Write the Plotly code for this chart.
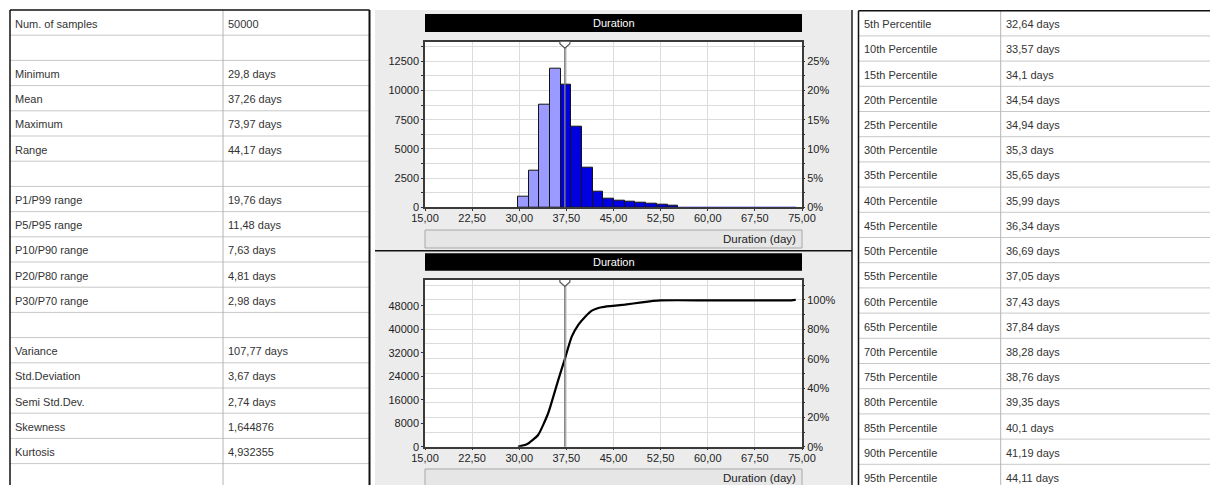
import plotly.graph_objects as go

# ---------------- data ----------------
stat_labels = ["Num. of samples", "", "Minimum", "Mean", "Maximum", "Range", "",
               "P1/P99 range", "P5/P95 range", "P10/P90 range", "P20/P80 range", "P30/P70 range", "",
               "Variance", "Std.Deviation", "Semi Std.Dev.", "Skewness", "Kurtosis", ""]
stat_values = ["50000", "", "29,8 days", "37,26 days", "73,97 days", "44,17 days", "",
               "19,76 days", "11,48 days", "7,63 days", "4,81 days", "2,98 days", "",
               "107,77 days", "3,67 days", "2,74 days", "1,644876", "4,932355", ""]

pct_labels = ["5th Percentile", "10th Percentile", "15th Percentile", "20th Percentile",
              "25th Percentile", "30th Percentile", "35th Percentile", "40th Percentile",
              "45th Percentile", "50th Percentile", "55th Percentile", "60th Percentile",
              "65th Percentile", "70th Percentile", "75th Percentile", "80th Percentile",
              "85th Percentile", "90th Percentile", "95th Percentile"]
pct_values = ["32,64 days", "33,57 days", "34,1 days", "34,54 days", "34,94 days", "35,3 days",
              "35,65 days", "35,99 days", "36,34 days", "36,69 days", "37,05 days", "37,43 days",
              "37,84 days", "38,28 days", "38,76 days", "39,35 days", "40,1 days", "41,19 days",
              "44,11 days"]

n_samples = 50000
mean_val = 37.26

bin_edges = [29.8, 31.5, 33.2, 34.9, 36.6, 38.3, 40.0, 41.7, 43.4, 45.1, 46.8, 48.5, 50.2,
             51.9, 53.6, 55.3, 57.0, 58.7, 60.4, 62.1, 63.8, 65.5, 67.2, 68.9, 70.6, 72.3, 73.97]
bin_counts = [880, 3130, 8750, 11900, 10450, 6900, 3420, 1350, 740, 560, 480, 390, 300,
              220, 140, 12, 10, 9, 8, 7, 6, 5, 5, 4, 4, 6]

cdf_x = [29.8, 31.2, 33.0, 34.6, 36.2, 37.2, 38.35, 39.4, 40.5, 41.5, 43.1, 44.5, 46.8,
         49.5, 52.5, 60.0, 67.5, 73.3, 74.0]
cdf_y = [0, 800, 4000, 11400, 22700, 29500, 37500, 41500, 44300, 46300, 47500, 47900, 48400,
         49200, 49850, 49870, 49880, 49890, 50000]

x_ticks = [15, 22.5, 30, 37.5, 45, 52.5, 60, 67.5, 75]
x_ticktext = ["15,00", "22,50", "30,00", "37,50", "45,00", "52,50", "60,00", "67,50", "75,00"]
hist_count_ticks = [0, 1250, 2500, 3750, 5000, 6250, 7500, 8750, 10000, 11250, 12500, 13750]
hist_count_text = ["0", "", "2500", "", "5000", "", "7500", "", "10000", "", "12500", ""]
hist_pct_ticks = [0, 2.5, 5, 7.5, 10, 12.5, 15, 17.5, 20, 22.5, 25, 27.5]
hist_pct_text = ["0%", "", "5%", "", "10%", "", "15%", "", "20%", "", "25%", ""]
cdf_count_ticks = [0, 8000, 16000, 24000, 32000, 40000, 48000]
cdf_count_text = ["0", "8000", "16000", "24000", "32000", "40000", "48000"]
cdf_pct_ticks = [0, 10, 20, 30, 40, 50, 60, 70, 80, 90, 100, 110]
cdf_pct_text = ["0%", "", "20%", "", "40%", "", "60%", "", "80%", "", "100%", ""]

chart_title = "Duration"
axis_title = "Duration (day)"

# ---------------- geometry helpers ----------------
W, H = 1210, 485
FONT = "Liberation Sans, Arial, sans-serif"


def X(p):
    return p / W


def Y(p):
    return 1 - p / H


fig = go.Figure()

# histogram bars
centers = [(bin_edges[i] + bin_edges[i + 1]) / 2 for i in range(len(bin_counts))]
widths = [bin_edges[i + 1] - bin_edges[i] for i in range(len(bin_counts))]
colors = ["#9a9aff" if c < mean_val else "#0000e0" for c in centers]
outline_w = [1 if c >= 100 else 0 for c in bin_counts]
fig.add_trace(go.Bar(x=centers, y=bin_counts, width=widths,
                     marker=dict(color=colors, line=dict(color="#141414", width=outline_w)),
                     xaxis="x", yaxis="y", showlegend=False, hoverinfo="skip"))

# cumulative line
fig.add_trace(go.Scatter(x=cdf_x, y=cdf_y, mode="lines",
                         line=dict(color="black", width=2.2, shape="spline", smoothing=0.5),
                         xaxis="x2", yaxis="y3", showlegend=False, hoverinfo="skip"))

hist_ymax = 14170
cdf_ymax = 56800

# percentage views of the same data on the right axes (invisible, keep the axes alive)
fig.add_trace(go.Scatter(x=centers, y=[c / n_samples * 100 for c in bin_counts], mode="markers",
                         marker=dict(opacity=0), xaxis="x", yaxis="y2", showlegend=False, hoverinfo="skip"))
fig.add_trace(go.Scatter(x=cdf_x, y=[c / n_samples * 100 for c in cdf_y], mode="markers",
                         marker=dict(opacity=0), xaxis="x2", yaxis="y4", showlegend=False, hoverinfo="skip"))

hist_dom_x = [X(425), X(802)]
hist_dom_y = [Y(207.3), Y(41.7)]
cdf_dom_y = [Y(446.7), Y(280)]

tickfont = dict(family=FONT, size=11, color="#222")
grid_c = "#dcdcdc"
line_c = "#3a3a3a"

xcommon = dict(range=[15, 75], tickvals=x_ticks, ticktext=x_ticktext, showgrid=True, gridcolor=grid_c,
               gridwidth=1, zeroline=False, showline=True, mirror=True, linecolor=line_c, linewidth=1.5,
               ticks="outside", ticklen=2, tickcolor="#333", tickfont=tickfont, fixedrange=True,
               ticklabelstandoff=-2)
ycommon = dict(zeroline=False, ticks="outside", ticklen=2, tickcolor="#333", tickfont=tickfont)

fig.update_layout(
    width=W, height=H, margin=dict(l=0, r=0, t=0, b=0, autoexpand=False),
    paper_bgcolor="white", plot_bgcolor="white",
    showlegend=False, bargap=0,
    xaxis=dict(domain=hist_dom_x, anchor="y", **xcommon),
    yaxis=dict(domain=hist_dom_y, anchor="x", range=[0, hist_ymax], tickvals=hist_count_ticks,
               ticktext=hist_count_text, showgrid=True, gridcolor=grid_c, gridwidth=1,
               showline=True, mirror=True, linecolor=line_c, linewidth=1.5, **ycommon),
    yaxis2=dict(overlaying="y", side="right", anchor="x", range=[0, hist_ymax / n_samples * 100],
                tickvals=hist_pct_ticks, ticktext=hist_pct_text, showgrid=False, showline=False, **ycommon),
    xaxis2=dict(domain=hist_dom_x, anchor="y3", **xcommon),
    yaxis3=dict(domain=cdf_dom_y, anchor="x2", range=[0, cdf_ymax], tickvals=cdf_count_ticks,
                ticktext=cdf_count_text, showgrid=False,
                showline=True, mirror=True, linecolor=line_c, linewidth=1.5, **ycommon),
    yaxis4=dict(overlaying="y3", side="right", anchor="x2", range=[0, cdf_ymax / n_samples * 100],
                tickvals=cdf_pct_ticks, ticktext=cdf_pct_text, showgrid=True, gridcolor=grid_c, gridwidth=1,
                showline=False, **ycommon),
)

shapes = []
annots = []

# middle panel background
shapes.append(dict(type="rect", xref="paper", yref="paper", x0=X(375), x1=X(852), y0=Y(485), y1=Y(10),
                   fillcolor="#ececec", line=dict(width=0), layer="below"))
# white plot areas
for xr, yr in (("x domain", "y domain"), ("x2 domain", "y3 domain")):
    shapes.append(dict(type="rect", xref=xr, yref=yr, x0=0, x1=1, y0=0, y1=1, fillcolor="white",
                       line=dict(width=0), layer="below"))
# panel borders
shapes.append(dict(type="line", xref="paper", yref="paper", x0=X(852), x1=X(852), y0=Y(485), y1=Y(10),
                   line=dict(color="#222", width=1.5)))
shapes.append(dict(type="line", xref="paper", yref="paper", x0=X(375), x1=X(852), y0=Y(250.7), y1=Y(250.7),
                   line=dict(color="#111", width=1.5)))

# title bars and axis-title boxes
for top, bottom, box_top, box_bottom in ((14, 32, 230, 248), (253.3, 270.7, 469, 488)):
    shapes.append(dict(type="rect", xref="paper", yref="paper", x0=X(425), x1=X(802), y0=Y(bottom), y1=Y(top),
                       fillcolor="black", line=dict(width=0)))
    annots.append(dict(x=X(613.5), y=Y((top + bottom) / 2), xref="paper", yref="paper", text=chart_title,
                       showarrow=False, xanchor="center", yanchor="middle",
                       font=dict(family=FONT, size=11, color="white")))
    shapes.append(dict(type="rect", xref="paper", yref="paper", x0=X(425), x1=X(802), y0=Y(box_bottom), y1=Y(box_top),
                       fillcolor="#e6e6e6", line=dict(color="#a8a8a8", width=1)))
    annots.append(dict(x=X(798), y=Y((box_top + min(box_bottom, 487.5)) / 2), xref="paper", yref="paper",
                       text=axis_title, showarrow=False, xanchor="right", yanchor="middle",
                       font=dict(family=FONT, size=11.5, color="#222")))

# mean marker lines + pointers
for xr, yr, ydom, ymax in (("x", "y", "y domain", hist_ymax), ("x2", "y3", "y3 domain", cdf_ymax)):
    shapes.append(dict(type="line", xref=xr, yref=ydom, x0=mean_val, x1=mean_val, y0=0, y1=1,
                       line=dict(color="#7a7a7a", width=1.5), layer="above"))
    shapes.append(dict(type="path", xref=xr, yref=yr, xsizemode="pixel", ysizemode="pixel",
                       xanchor=mean_val, yanchor=ymax,
                       path="M -5,7 L 5,7 L 5,-2 L 0,-6.5 L -5,-2 Z",
                       fillcolor="white", line=dict(color="#555", width=1.2), layer="above"))

# ---------------- tables ----------------
ROW_H = 25.2


def draw_table(x_left, x_div, x_right, y_top, labels, values, right_border):
    n = len(labels)
    for i in range(1, n + 1):
        yy = y_top + i * ROW_H
        if yy < H:
            shapes.append(dict(type="line", xref="paper", yref="paper", x0=X(x_left), x1=X(x_right),
                               y0=Y(yy), y1=Y(yy), line=dict(color="#c8c8c8", width=1)))
    shapes.append(dict(type="line", xref="paper", yref="paper", x0=X(x_div), x1=X(x_div), y0=Y(H), y1=Y(y_top),
                       line=dict(color="#b4b4b4", width=1)))
    shapes.append(dict(type="line", xref="paper", yref="paper", x0=X(x_left), x1=X(x_right), y0=Y(y_top), y1=Y(y_top),
                       line=dict(color="#111", width=1.5)))
    shapes.append(dict(type="line", xref="paper", yref="paper", x0=X(x_left), x1=X(x_left), y0=Y(H), y1=Y(y_top),
                       line=dict(color="#111", width=1.5)))
    if right_border:
        shapes.append(dict(type="line", xref="paper", yref="paper", x0=X(x_right), x1=X(x_right), y0=Y(H), y1=Y(y_top),
                           line=dict(color="#111", width=2)))
    for i, (lab, val) in enumerate(zip(labels, values)):
        yc = y_top + (i + 0.5) * ROW_H + 1
        if lab:
            annots.append(dict(x=X(x_left + 3), y=Y(yc), xref="paper", yref="paper", text=lab, showarrow=False,
                               xanchor="left", yanchor="middle", font=dict(family=FONT, size=11, color="#333")))
        if val:
            annots.append(dict(x=X(x_div + 3), y=Y(yc), xref="paper", yref="paper", text=val, showarrow=False,
                               xanchor="left", yanchor="middle", font=dict(family=FONT, size=11, color="#333")))


draw_table(10, 223, 369.5, 10, stat_labels, stat_values, True)
draw_table(858.5, 1000.7, 1210, 10.7, pct_labels, pct_values, False)

fig.update_layout(shapes=shapes, annotations=annots)
fig.write_html("out.html")
